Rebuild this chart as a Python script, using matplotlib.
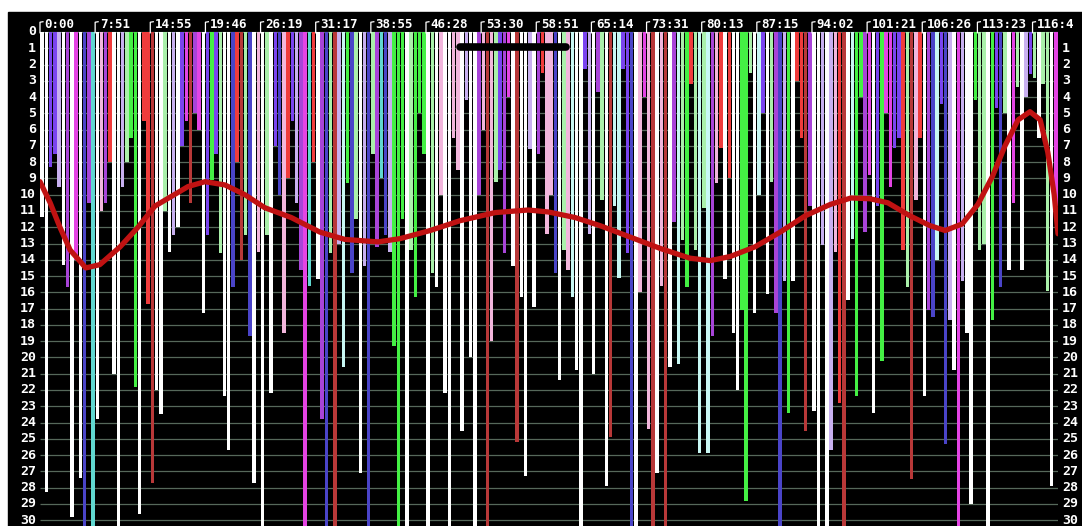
import numpy as np
import matplotlib.pyplot as plt
from matplotlib.patches import Rectangle

# depth reached by each item (0 = top row), one value per column
depths = [
    11.4, 28.3, 8.3, 7.5, 9.5, 14.3, 15.7, 29.8, 14, 27.4,
    31, 10.5, 31, 23.8, 11, 10.5, 8, 21, 31, 9.5,
    8, 6.5, 21.8, 29.6, 5.5, 16.7, 27.7, 22, 23.5, 11,
    13.5, 12.5, 12, 7, 5.5, 10.5, 5, 6, 17.3, 12.5,
    9.1, 7.5, 13.6, 22.4, 25.7, 15.7, 8, 14, 12.5, 18.7,
    27.7, 13.5, 31, 12.5, 22.2, 7, 10, 18.5, 9, 5.5,
    10.5, 14.6, 31, 15.6, 8, 15.2, 23.8, 31, 13.6, 31,
    13, 20.6, 9.3, 14.8, 11.5, 27.1, 14.4, 31, 7.5, 13.2,
    9.0, 12.5, 13.5, 19.3, 31, 11.5, 31, 13.4, 16.3, 5,
    7.5, 31, 14.8, 15.7, 10, 22.2, 31, 6.5, 8.5, 24.5,
    4.2, 20, 31, 10, 6, 31, 19, 9.2, 8.5, 13.6,
    4, 14.4, 25.2, 16.3, 27.3, 7.2, 16.9, 7.5, 2.5, 12.4,
    10, 14.8, 21.4, 13.4, 14.6, 16.3, 20.8, 31, 2.3, 12.4,
    21, 3.7, 10.3, 27.9, 24.9, 10.7, 15.1, 2.3, 13.6, 31,
    31, 16, 4, 24.4, 31, 27.1, 15.6, 31, 20.6, 11.7,
    20.4, 12.8, 15.7, 3.2, 13.4, 25.9, 10.8, 25.9, 18.7, 9.3,
    7.1, 15.2, 9, 18.5, 22, 17.1, 28.8, 2.5, 17.3, 10,
    5, 16.1, 9.2, 17.3, 31, 15.3, 23.4, 15.3, 3, 6.5,
    24.5, 10.7, 23.3, 31, 13.1, 31, 25.7, 13.5, 22.8, 31,
    16.5, 12.7, 22.4, 4, 12.3, 8.8, 23.4, 10.7, 20.2, 5,
    9.5, 7.1, 6.5, 13.4, 15.7, 27.5, 10.3, 6.5, 22.4, 17.1,
    17.5, 14, 4.4, 25.3, 17.7, 20.8, 31, 15.3, 18.5, 29,
    4.2, 13.4, 13, 31, 17.7, 4.7, 15.7, 5, 14.6, 10.5,
    3.4, 14.6, 4, 2.6, 2.8, 6.5, 3.2, 15.9, 27.9, 10.7,
]

# colour class of each item
kinds = (
    "WWPPAWVWMW" "BVTWKVRWWA" "LGGWRRDWWL" "WAWPMDVMWP"
    "GPLWWBRDLB" "WKWLWPBKRP" "AVMTRWVBLD" "ACGBLWABLV"
    "TBAGGGWLGG" "GWLWKWWKKW" "AWWVKDKLPV" "MWDWWAWVRK"
    "KBWLKCWWPA" "WVLWDCCPPB" "WKMKDWKDWV" "CLGRLCLCVK"
    "RWRWWGGLWC" "PWLVBAGWRR" "DVWWAWAKRD" "WCGGVMWPGM"
    "MPPRLDKRWV" "BCPBAWMAWW" "GLLWGPBLWM" "LWAPLWLLWM"
)

palette = {
    "P": "#7a44f0", "V": "#a844d8", "M": "#e444e4", "K": "#f2b6dc",
    "R": "#f03c3c", "D": "#b83838", "G": "#44f044", "L": "#aaf0aa",
    "W": "#ffffff", "C": "#c8f8f4", "B": "#4a44c8", "A": "#c8b0f0",
    "T": "#60d8d0",
}

# elapsed time printed every 13 items
time_labels = ["0:00", "7:51", "14:55", "19:46", "26:19", "31:17", "38:55",
               "46:28", "53:30", "58:51", "65:14", "73:31", "80:13", "87:15",
               "94:02", "101:21", "106:26", "113:23", "116:4"]
label_every = 13

# smoothed trend (item position, depth)
trend_x = [0, 2.4, 4.7, 7.1, 10.8, 14.1, 18.9, 23.1, 27.1, 34.9, 38.9, 43.6,
           48.3, 53.0, 59.2, 66.0, 71.9, 79.7, 84.9, 92.0, 99.0, 107.3, 115.1,
           119.8, 126.1, 132.0, 139.1, 146.2, 153.2, 158.0, 162.7, 168.6,
           174.5, 180.4, 186.3, 191.2, 195.7, 199.9, 205.1, 209.8, 213.4,
           217.4, 221.1, 224.5, 227.5, 230.6, 233.4, 235.8, 237.6, 239.1, 240]
trend_y = [9.2, 10.5, 12.0, 13.4, 14.5, 14.3, 13.2, 12.0, 10.7, 9.5, 9.2, 9.4,
           10.0, 10.8, 11.4, 12.3, 12.75, 12.9, 12.7, 12.2, 11.6, 11.1, 10.94,
           11.06, 11.4, 11.9, 12.6, 13.3, 13.9, 14.05, 13.8, 13.2,
           12.3, 11.3, 10.6, 10.2, 10.25, 10.5, 11.3, 11.9, 12.2,
           11.8, 10.6, 8.9, 7.0, 5.4, 4.9, 5.4, 7.4, 10.0, 12.4]

# current window marker
window = [99, 124]
window_level = 0.92

n = len(depths)
W, H = 1082, 526
fig = plt.figure(figsize=(W / 100, H / 100), dpi=100)
fig.patch.set_facecolor("white")
fig.add_artist(Rectangle((8 / W, 0), (W - 8) / W, (H - 12) / H,
                         transform=fig.transFigure, color="black", zorder=0))

ax = fig.add_axes([40 / W, 0, 1018 / W, (H - 31) / H])
ax.set_facecolor("black")
ax.set_xlim(0, n)
ax.set_ylim(30.36, -0.06)
for s in ax.spines.values():
    s.set_visible(False)
ax.set_xticks([])
ax.set_yticks([])

# row lines
ax.hlines(np.arange(31), 0, n, color="#56685a", lw=0.9, zorder=0)

# narrow bars, so the deep items read as separate lines
ax.bar(np.arange(n) + 0.5, depths, width=0.82, bottom=0,
       color=[palette[k] for k in kinds], linewidth=0, zorder=1)

ax.plot(trend_x, trend_y, color="#c01212", lw=3.8, zorder=3,
        solid_capstyle="round", solid_joinstyle="round")
ax.plot(window, [window_level, window_level], color="black", lw=5.5,
        solid_capstyle="round", zorder=4)

font = dict(family="DejaVu Sans Mono", weight="bold", color="white")
for v in range(31):
    ax.text(-0.9, v, str(v), ha="right", va="center", fontsize=9.5,
            clip_on=False, **font)
    if v > 0:
        ax.text(n + 1.0, v, str(v), ha="left", va="center", fontsize=9.5,
                clip_on=False, **font)

for i, lab in enumerate(time_labels):
    x0 = i * label_every
    ax.plot([x0, x0, x0 + 0.7], [0.05, -0.6, -0.63], color="white", lw=0.9,
            clip_on=False, zorder=5)
    ax.text(x0 + 1.1, -0.47, lab, ha="left", va="center", fontsize=9,
            clip_on=False, **font)

fig.savefig("out.png", dpi=100)
